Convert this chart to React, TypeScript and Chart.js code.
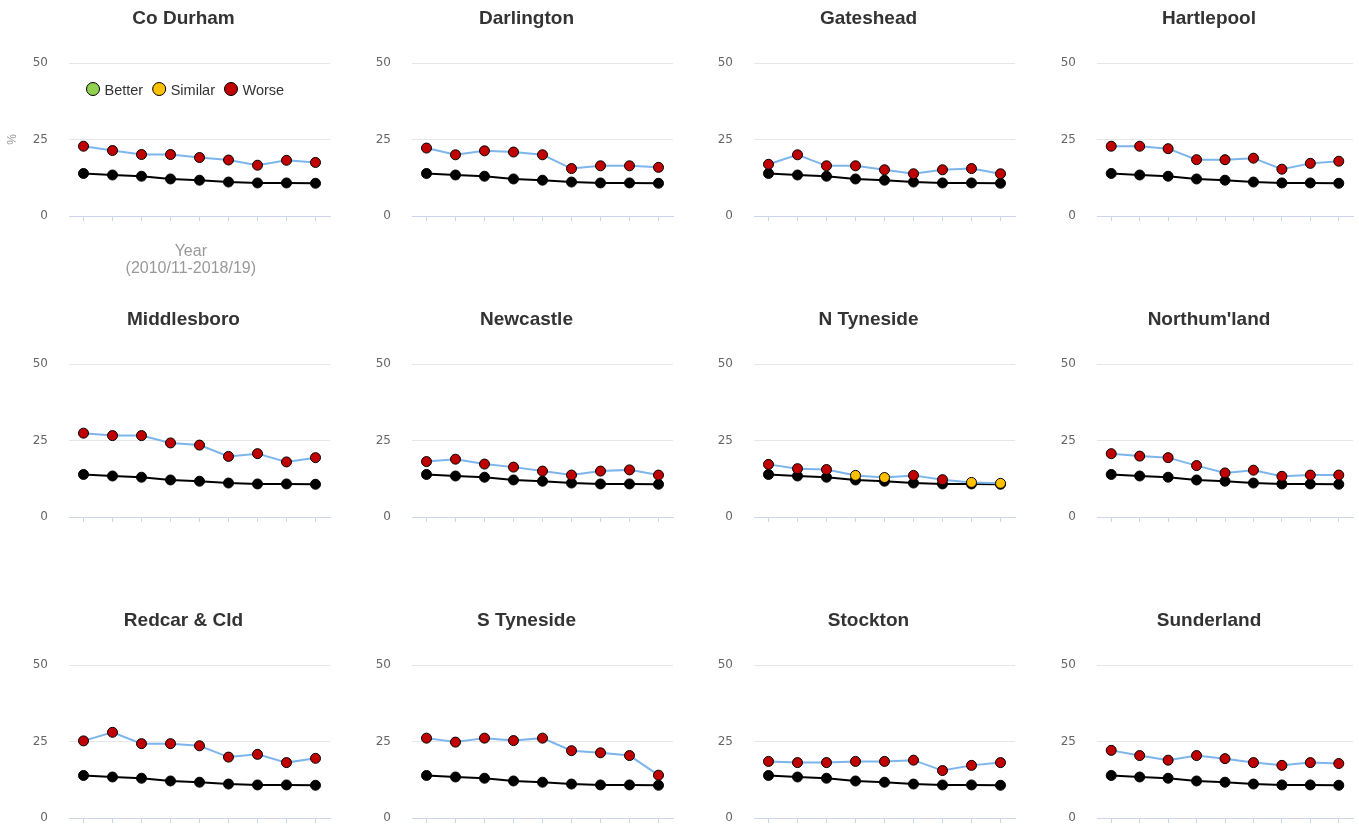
import React, { useEffect, useRef } from 'react';
import { Chart, registerables } from 'chart.js';

Chart.register(...registerables);

// ---------- data ----------
const years = ['2010/11', '2011/12', '2012/13', '2013/14', '2014/15', '2015/16', '2016/17', '2017/18', '2018/19'];
const england = [13.9, 13.4, 13.0, 12.1, 11.7, 11.1, 10.8, 10.8, 10.7];

const coDurham = [22.8, 21.4, 20.1, 20.1, 19.1, 18.3, 16.6, 18.2, 17.5];
const darlington = [22.2, 20.0, 21.3, 20.9, 20.0, 15.5, 16.4, 16.4, 15.9];
const gateshead = [16.9, 20.0, 16.4, 16.4, 15.1, 13.8, 15.1, 15.5, 13.8];
const hartlepool = [22.8, 22.8, 22.0, 18.4, 18.4, 18.9, 15.3, 17.2, 17.9];
const middlesboro = [27.4, 26.6, 26.6, 24.2, 23.5, 19.8, 20.7, 18.0, 19.4];
const newcastle = [18.1, 18.9, 17.3, 16.3, 15.0, 13.7, 15.0, 15.4, 13.7];
const nTyneside = [17.2, 15.8, 15.5, 13.6, 12.9, 13.6, 12.2, 11.3, 11.0];
const northumland = [20.7, 19.9, 19.4, 16.8, 14.4, 15.3, 13.3, 13.7, 13.7];
const redcar = [25.2, 28.0, 24.3, 24.3, 23.6, 19.9, 20.8, 18.1, 19.5];
const sTyneside = [26.1, 24.8, 26.1, 25.3, 26.1, 22.0, 21.3, 20.4, 14.0];
const stockton = [18.5, 18.1, 18.1, 18.5, 18.5, 18.9, 15.5, 17.2, 18.1];
const sunderland = [22.1, 20.4, 18.9, 20.4, 19.4, 18.1, 17.2, 18.1, 17.8];

const allWorse = ['Worse', 'Worse', 'Worse', 'Worse', 'Worse', 'Worse', 'Worse', 'Worse', 'Worse'];
const nTynesideRating = ['Worse', 'Worse', 'Worse', 'Similar', 'Similar', 'Worse', 'Worse', 'Similar', 'Similar'];

const areaNames = ['Co Durham', 'Darlington', 'Gateshead', 'Hartlepool', 'Middlesboro', 'Newcastle', 'N Tyneside', "Northum'land", 'Redcar & Cld', 'S Tyneside', 'Stockton', 'Sunderland'];
const areaValues = [coDurham, darlington, gateshead, hartlepool, middlesboro, newcastle, nTyneside, northumland, redcar, sTyneside, stockton, sunderland];
const areaRatings = [allWorse, allWorse, allWorse, allWorse, allWorse, allWorse, nTynesideRating, allWorse, allWorse, allWorse, allWorse, allWorse];

const legendLabels = ['Better', 'Similar', 'Worse'];
const yTickValues = [0, 25, 50];
const yTitle = '%';
const xTitleLines = ['Year', '(2010/11-2018/19)'];

// ---------- styling ----------
const ratingColors: Record<string, string> = { Better: '#92d050', Similar: '#ffc000', Worse: '#c00000' };
const FONT = "'Liberation Sans', Arial, sans-serif";
const COL_LEFTS = [0, 343, 685, 1028];
const ROW_TOPS = [0, 301, 602];
const PANEL_H = 301;
const PAGE_W = 1359;
const PAGE_H = 828;
const PLOT_LEFT = 69;
const PLOT_RIGHT = 330;
const PLOT_TOP = 63;
const PLOT_BOTTOM = 216;

const decorPlugin = {
  id: 'panelDecor',
  afterDraw(chart: any, _args: any, opts: any) {
    const ctx = chart.ctx;
    const area = chart.chartArea;
    ctx.save();
    const mid = (area.left + area.right) / 2;
    ctx.font = `bold 19px ${FONT}`;
    ctx.fillStyle = '#333333';
    ctx.textAlign = 'center';
    ctx.textBaseline = 'alphabetic';
    ctx.fillText(opts.title, mid - 16, 23.5);
    if (opts.extras) {
      ctx.font = `14.5px ${FONT}`;
      ctx.textAlign = 'left';
      let x = area.left + 24;
      const y = area.top + 26;
      legendLabels.forEach((name) => {
        ctx.beginPath();
        ctx.arc(x, y, 6.5, 0, Math.PI * 2);
        ctx.fillStyle = ratingColors[name];
        ctx.fill();
        ctx.lineWidth = 1;
        ctx.strokeStyle = '#000000';
        ctx.stroke();
        ctx.fillStyle = '#333333';
        ctx.fillText(name, x + 11.5, y + 5.5);
        x += 11.5 + ctx.measureText(name).width + 16;
      });
      ctx.font = `16px ${FONT}`;
      ctx.fillStyle = '#999999';
      ctx.textAlign = 'center';
      const tx = mid - 8.7;
      ctx.fillText(xTitleLines[0], tx, area.bottom + 39.5);
      ctx.fillText(xTitleLines[1], tx, area.bottom + 56.5);
    }
    ctx.restore();
  },
};

function Panel({ index }: { index: number }) {
  const ref = useRef<HTMLCanvasElement | null>(null);
  const col = index % 4;
  const row = Math.floor(index / 4);
  const left = COL_LEFTS[col];
  const width = col < 3 ? COL_LEFTS[col + 1] - left : PAGE_W - left;
  const top = ROW_TOPS[row];
  const height = PANEL_H;
  const first = index === 0;

  useEffect(() => {
    if (!ref.current) return;
    const ratings = areaRatings[index];
    const chart = new Chart(ref.current, {
      type: 'line',
      data: {
        labels: years,
        datasets: [
          {
            label: areaNames[index],
            data: areaValues[index],
            borderColor: '#7cb5ec',
            borderWidth: 2,
            tension: 0,
            pointRadius: 5,
            pointBorderWidth: 1,
            pointBorderColor: '#000000',
            pointBackgroundColor: ratings.map((r) => ratingColors[r]),
          },
          {
            label: 'England',
            data: england,
            borderColor: '#000000',
            borderWidth: 2,
            tension: 0,
            pointRadius: 5,
            pointBorderWidth: 1,
            pointBorderColor: '#000000',
            pointBackgroundColor: '#000000',
          },
        ],
      },
      options: {
        responsive: false,
        animation: false,
        layout: { padding: { top: PLOT_TOP, left: 0, right: width - PLOT_RIGHT, bottom: 0 } },
        plugins: {
          legend: { display: false },
          title: { display: false },
          tooltip: { enabled: false },
          panelDecor: { title: areaNames[index], extras: first },
        } as any,
        scales: {
          x: {
            type: 'category',
            offset: true,
            grid: {
              drawOnChartArea: false,
              drawTicks: true,
              tickLength: 5,
              color: '#ccd6eb',
              offset: false,
            },
            border: { display: true, color: '#ccd6eb', width: 1 },
            ticks: { display: false },
            afterFit: (scale: any) => {
              scale.height = PANEL_H - PLOT_BOTTOM;
            },
          },
          y: {
            min: 0,
            max: 50,
            afterBuildTicks: (scale: any) => {
              scale.ticks = yTickValues.map((v) => ({ value: v }));
            },
            grid: {
              drawTicks: false,
              color: (c: any) => (c.tick && c.tick.value === 0 ? '#ccd6eb' : '#e6e6e6'),
              lineWidth: 1,
            },
            border: { display: false },
            ticks: {
              padding: 21,
              color: '#666666',
              font: { family: "'DejaVu Sans', sans-serif", size: 12 },
            },
            title: {
              display: first,
              text: yTitle,
              color: '#999999',
              font: { family: FONT, size: 12 },
              padding: { top: 5, bottom: 0 },
            },
            afterFit: (scale: any) => {
              scale.width = PLOT_LEFT;
            },
          },
        },
      },
      plugins: [decorPlugin as any],
    });
    return () => chart.destroy();
  }, [index, width, height]);

  return (
    <canvas
      ref={ref}
      width={width}
      height={height}
      style={{ position: 'absolute', left, top, width, height, display: 'block' }}
    />
  );
}

export default function App() {
  return (
    <div
      style={{
        position: 'absolute',
        left: 0,
        top: 0,
        width: PAGE_W,
        height: PAGE_H,
        overflow: 'hidden',
        background: '#ffffff',
      }}
    >
      {areaNames.map((_, i) => (
        <Panel key={i} index={i} />
      ))}
    </div>
  );
}
